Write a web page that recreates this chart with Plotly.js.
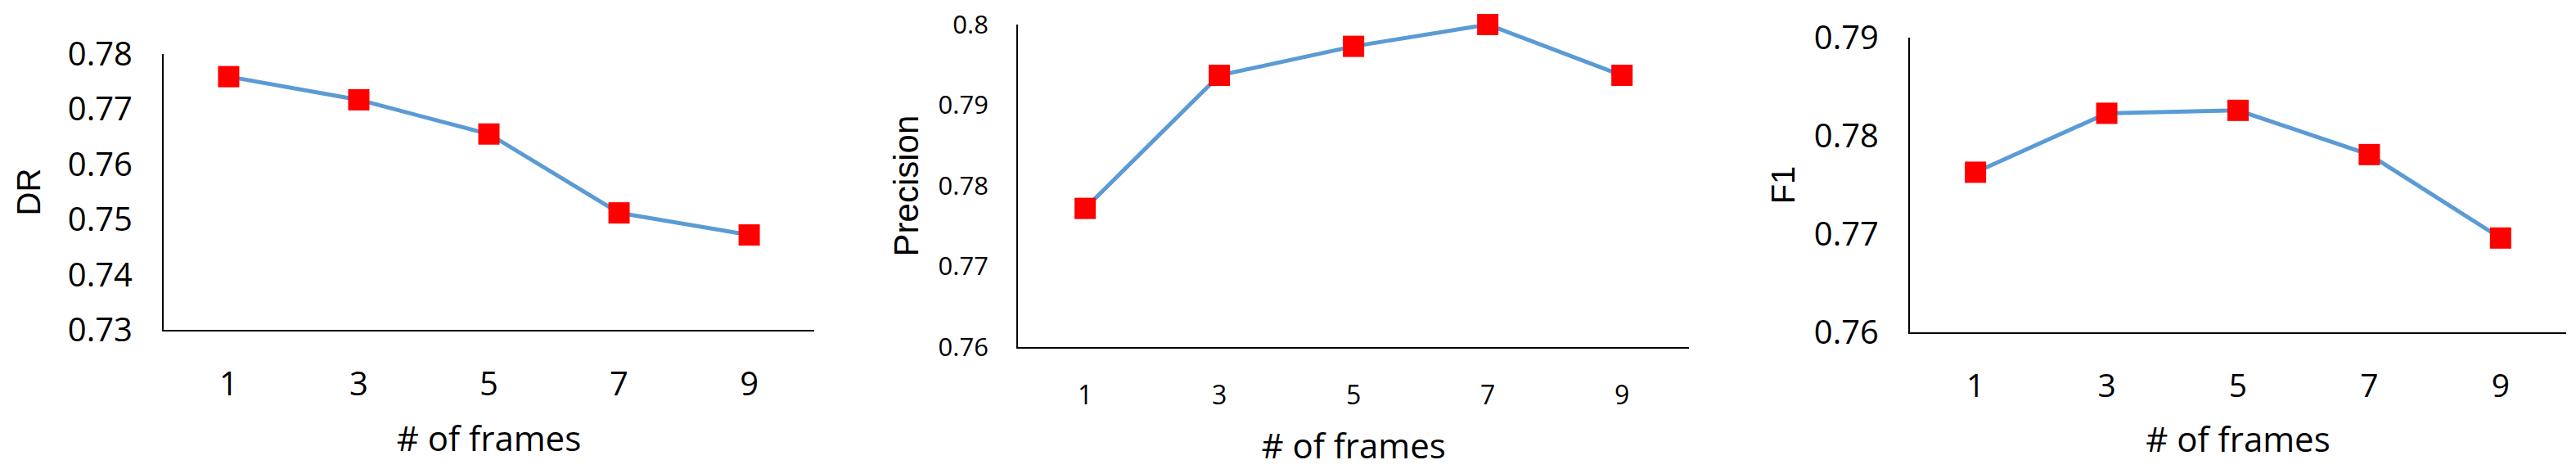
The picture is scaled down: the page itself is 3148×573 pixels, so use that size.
<!DOCTYPE html>
<html lang="en">
<head>
    <meta charset="UTF-8">
    <title># of frames</title>
    <script src="https://cdn.plot.ly/plotly-3.0.1.min.js"></script>
    <style>
        body { margin: 0; padding: 0; background: #fff; }
        #chart { width: 3148px; height: 573px; }
    </style>
</head>
<body>
<div id="chart"></div>
<script>
// frames on the x axis (categories)
const frames = ['1', '3', '5', '7', '9'];

// values
const drValues = [0.7759, 0.7717, 0.7655, 0.7512, 0.7472];
const precisionValues = [0.7772, 0.7937, 0.7973, 0.8000, 0.7937];
const f1Values = [0.7763, 0.7823, 0.7826, 0.7781, 0.7696];

// y axis ranges / ticks
const drRange = [0.73, 0.78];
const precisionRange = [0.76, 0.80];
const f1Range = [0.76, 0.79];

const xTitle = '# of frames';
const yTitles = ['DR', 'Precision', 'F1'];

const lineColor = '#5b9bd5';
const markerColor = '#ff0000';
const numFont = 'Open Sans, Liberation Sans, sans-serif';
const titleFont = 'Liberation Sans, Arial, sans-serif';

function makeTrace(y, xa, ya) {
    return {
        x: frames,
        y: y,
        xaxis: xa,
        yaxis: ya,
        type: 'scatter',
        mode: 'lines+markers',
        cliponaxis: false,
        line: { color: lineColor, width: 5 },
        marker: { color: markerColor, symbol: 'square', size: 26 },
        showlegend: false
    };
}

function xAxis(domain, anchor, tickSize, standoff) {
    return {
        domain: domain,
        anchor: anchor,
        type: 'category',
        range: [-0.5, 4.5],
        showline: true,
        linecolor: '#000',
        linewidth: 2,
        showgrid: false,
        zeroline: false,
        ticks: '',
        ticklabelstandoff: 30,
        tickfont: { family: numFont, size: tickSize, color: '#000' },
        title: {
            text: xTitle,
            standoff: standoff,
            font: { family: numFont, size: 42, color: '#000' }
        }
    };
}

function yAxis(domain, anchor, range, title, tickSize, titleSize, standoff) {
    return {
        domain: domain,
        anchor: anchor,
        range: range,
        tick0: range[0],
        dtick: 0.01,
        showline: true,
        linecolor: '#000',
        linewidth: 2,
        showgrid: false,
        zeroline: false,
        ticks: '',
        ticklabelstandoff: 28,
        tickfont: { family: numFont, size: tickSize, color: '#000' },
        title: {
            text: title,
            standoff: standoff,
            font: { family: titleFont, size: titleSize, color: '#000' }
        }
    };
}

const data = [
    makeTrace(drValues, 'x', 'y'),
    makeTrace(precisionValues, 'x2', 'y2'),
    makeTrace(f1Values, 'x3', 'y3')
];

const layout = {
    width: 3148,
    height: 573,
    margin: { l: 0, r: 0, t: 0, b: 0 },
    paper_bgcolor: '#fff',
    plot_bgcolor: '#fff',
    xaxis: xAxis([0.0635, 0.3161], 'y', 40, 28),
    yaxis: yAxis([0.2967, 0.8848], 'x', drRange, yTitles[0], 40, 40, 21),
    xaxis2: xAxis([0.3952, 0.6557], 'y2', 32, 28),
    yaxis2: yAxis([0.2600, 0.9476], 'x2', precisionRange, yTitles[1], 31, 42, 11),
    xaxis3: xAxis([0.7414, 0.9962], 'y3', 39, 28),
    yaxis3: yAxis([0.2914, 0.9197], 'x3', f1Range, yTitles[2], 40, 40, 11)
};

Plotly.newPlot('chart', data, layout, { displayModeBar: false, staticPlot: true });
</script>
</body>
</html>
